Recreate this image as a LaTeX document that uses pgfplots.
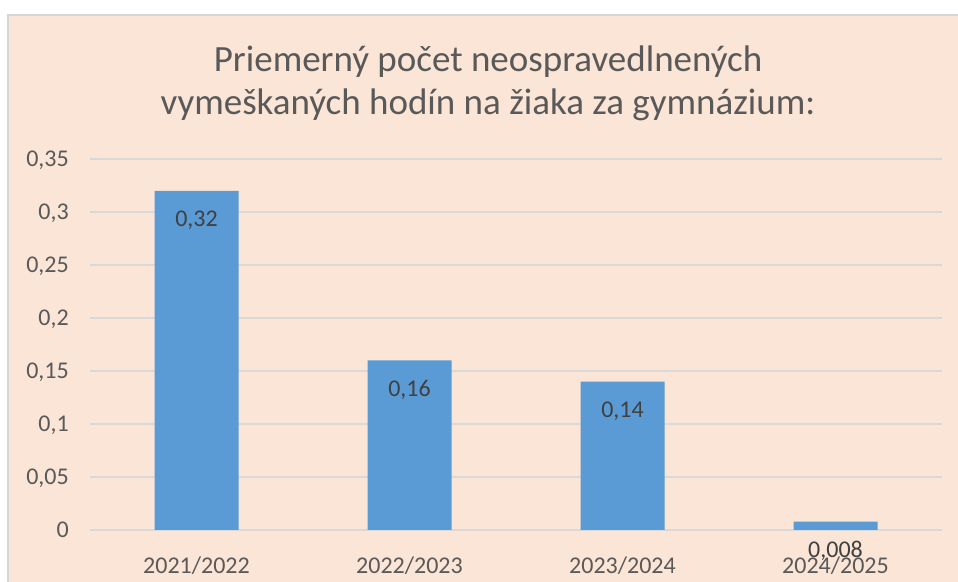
\documentclass[border=0pt]{standalone}
\usepackage{pgfplots}
\pgfplotsset{compat=1.18}
\usepackage{fontspec}
\setmainfont{Carlito}
\definecolor{peach}{HTML}{FBE5D6}
\definecolor{barblue}{HTML}{5B9BD5}
\definecolor{gridgray}{HTML}{D9D9D9}
\definecolor{framegray}{HTML}{D6D6D6}
\definecolor{txtgray}{HTML}{595959}
\definecolor{lblgray}{HTML}{404040}

\begin{document}
\begin{tikzpicture}
\useasboundingbox (0,0) rectangle (958bp,582bp);
\fill[white] (0,0) rectangle (958bp,582bp);
\fill[peach] (8bp,0) rectangle (958bp,567bp);
\draw[framegray, line width=2bp] (8bp,0) -- (8bp,567bp) -- (958bp,567bp);

\node[align=center, text=txtgray, font=\fontsize{37bp}{43bp}\selectfont]
  at (488bp,498.5bp) {Priemerný počet neospravedlnených\\vymeškaných hodín na žiaka za gymnázium:};

\begin{axis}[
  at={(90bp,52bp)}, anchor=south west,
  scale only axis,
  width=852bp, height=371bp,
  xmin=-0.5, xmax=3.5,
  ymin=0, ymax=0.35,
  ybar, bar width=84bp,
  axis line style={draw=none},
  major tick style={draw=none},
  ymajorgrids,
  major grid style={gridgray, line width=1.3bp},
  xtick={0,1,2,3},
  xticklabels={2021/2022,2022/2023,2023/2024,2024/2025},
  ytick={0,0.05,0.1,0.15,0.2,0.25,0.3,0.35},
  /pgf/number format/assume math mode=true,
  yticklabel={\pgfmathprintnumber[use comma,fixed,precision=2]{\tick}},
  yticklabel style={anchor=base east, inner sep=0pt, xshift=-21bp, yshift=-7.5bp,
    font=\fontsize{24bp}{28bp}\selectfont, text=txtgray},
  xticklabel style={anchor=base, inner sep=0pt, yshift=-39bp,
    font=\fontsize{24bp}{28bp}\selectfont, text=txtgray},
  nodes near coords={\pgfmathprintnumber[use comma,fixed,precision=3,assume math mode=true]{\pgfplotspointmeta}},
  point meta=y,
  every node near coord/.append style={anchor=base, inner sep=0pt, yshift=-36bp,
    font=\fontsize{24bp}{28bp}\selectfont, text=lblgray},
]
\addplot[fill=barblue, draw=none] coordinates {
  (0,0.32) (1,0.16) (2,0.14) (3,0.008)
};
\end{axis}
\end{tikzpicture}
\end{document}
